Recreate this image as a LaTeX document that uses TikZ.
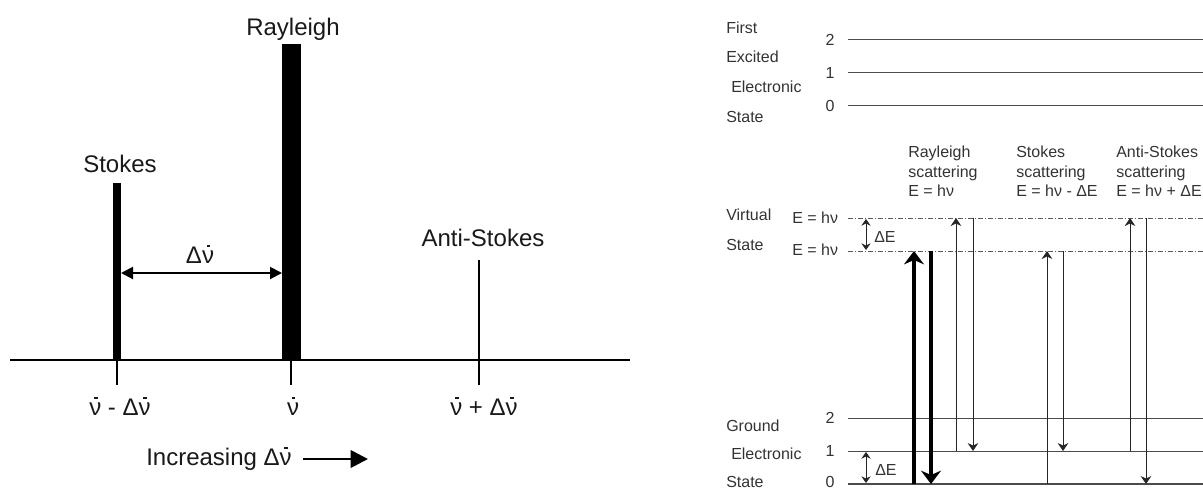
\documentclass[tikz,border=0pt]{standalone}
\usepackage{fontspec}
\setmainfont{Liberation Sans}
\usepackage{graphicx}
\usetikzlibrary{arrows.meta}
\newcommand{\nub}{\makebox[0pt][l]{\kern0.2em\rule[0.66em]{0.15em}{0.07em}}ν}
\begin{document}
\begin{tikzpicture}[x=0.75pt,y=-0.75pt,
  big/.style={font=\fontsize{18}{21}\selectfont, text=black!90, inner sep=0pt},
  small/.style={font=\fontsize{12}{15}\selectfont, text=black!80, inner sep=0pt, anchor=base west},
  num/.style={font=\fontsize{12}{15}\selectfont, text=black!80, inner sep=0pt, anchor=base},
  axisline/.style={draw=black, line width=1.5pt},
  tickline/.style={draw=black, line width=1.5pt},
  level/.style={draw=black!70, line width=0.75pt},
  virt/.style={draw=black!65, line width=0.7pt, dash pattern=on 3.75pt off 1.5pt on 0.75pt off 1.5pt},
  thinarrow/.style={draw=black!85, line width=0.75pt, -{Stealth[length=6pt,width=8pt]}},
  thickarrow/.style={draw=black, line width=3pt, -{Stealth[length=10pt,width=15pt]}},
  dearrow/.style={draw=black!85, line width=0.75pt, {Stealth[length=5pt,width=7pt]}-{Stealth[length=5pt,width=7pt]}},
  dnuarrow/.style={draw=black, line width=1.5pt, {Triangle[length=9pt,width=9pt]}-{Triangle[length=9pt,width=9pt]}},
  incarrow/.style={draw=black, line width=2pt, -{Triangle[length=13pt,width=13pt]}}
]
\useasboundingbox (0,0) rectangle (1203,490);

% ---------------- left panel ----------------
\coordinate (axL) at (10,360);
\coordinate (axR) at (630,360);
\draw[axisline] (axL) -- (axR);

% bars
\fill[black] (113,183) rectangle (121,361);
\fill[black] (282,44) rectangle (301,361);
\coordinate (asTop) at (479,260);
\coordinate (asBot) at (479,360);
\draw[draw=black, line width=1.9pt] (asTop) -- (asBot);

% ticks
\coordinate (t1a) at (117,360); \coordinate (t1b) at (117,385);
\coordinate (t2a) at (291,360); \coordinate (t2b) at (291,385);
\coordinate (t3a) at (479,360); \coordinate (t3b) at (479,385);
\draw[tickline] (t1a) -- (t1b);
\draw[tickline] (t2a) -- (t2b);
\draw[tickline] (t3a) -- (t3b);

% labels
\node[big, anchor=base] (lStokes) at (120,172) {Stokes};
\node[big, anchor=base] (lRay) at (293,35) {Rayleigh};
\node[big, anchor=base] (lAnti) at (483,246) {Anti-Stokes};
\node[big, anchor=base] (lDnu) at (200,263) {Δ\nub};
\node[big, anchor=base] (x1) at (120,415) {\nub{} - Δ\nub};
\node[big, anchor=base] (x2) at (293,415) {\nub};
\node[big, anchor=base] (x3) at (484,415) {\nub{} + Δ\nub};
\node[big, anchor=base west] (inc) at (146,465) {Increasing Δ\nub};

\coordinate (dnuL) at (121,273);
\coordinate (dnuR) at (282,273);
\draw[dnuarrow] (dnuL) -- (dnuR);
\coordinate (incA) at (303,459);
\coordinate (incB) at (368,459);
\draw[incarrow] (incA) -- (incB);

% ---------------- right panel ----------------
% excited state
\node[small] (eFirst) at (726,33) {First};
\node[small] (eExc) at (726,62) {Excited};
\node[small] (eEl) at (731,92) {Electronic};
\node[small] (eSt) at (726,122) {State};
\node[num] (e2) at (830,45) {2};
\node[num] (e1) at (830,78) {1};
\node[num] (e0) at (830,111) {0};
\coordinate (e2a) at (848,39);  \coordinate (e2b) at (1203,39);
\coordinate (e1a) at (848,72);  \coordinate (e1b) at (1203,72);
\coordinate (e0a) at (848,105); \coordinate (e0b) at (1203,105);
\draw[level] (e2a) -- (e2b);
\draw[level] (e1a) -- (e1b);
\draw[level] (e0a) -- (e0b);

% scattering labels
\node[small] (r1) at (908,157) {Rayleigh};
\node[small] (r2) at (908,177) {scattering};
\node[small] (r3) at (908,196) {E = hν};
\node[small] (s1) at (1016,157) {Stokes};
\node[small] (s2) at (1016,177) {scattering};
\node[small] (s3) at (1016,196) {E = hν - ΔE};
\node[small] (a1) at (1116,157) {Anti-Stokes};
\node[small] (a2) at (1116,177) {scattering};
\node[small] (a3) at (1116,196) {E = hν + ΔE};

% virtual states
\node[small] (vV) at (726,220) {Virtual};
\node[small] (vS) at (726,250) {State};
\node[small] (vE1) at (792,223) {E = hν};
\node[small] (vE2) at (792,255) {E = hν};
\coordinate (v1a) at (848,218); \coordinate (v1b) at (1203,218);
\coordinate (v2a) at (848,251); \coordinate (v2b) at (1203,251);
\draw[virt] (v1a) -- (v1b);
\draw[virt] (v2a) -- (v2b);
\coordinate (dv1) at (866,219); \coordinate (dv2) at (866,250);
\draw[dearrow] (dv1) -- (dv2);
\node[small] (vDE) at (874,242) {ΔE};

% ground state
\node[small] (gGr) at (726,431) {Ground};
\node[small] (gEl) at (731,459) {Electronic};
\node[small] (gSt) at (726,487) {State};
\node[num] (g2) at (830,423) {2};
\node[num] (g1) at (830,456) {1};
\node[num] (g0) at (830,487) {0};
\coordinate (g2a) at (848,418); \coordinate (g2b) at (1203,418);
\coordinate (g1a) at (848,451); \coordinate (g1b) at (1203,451);
\coordinate (g0a) at (848,484); \coordinate (g0b) at (1203,484);
\draw[level] (g2a) -- (g2b);
\draw[level] (g1a) -- (g1b);
\draw[level, line width=1.3pt] (g0a) -- (g0b);
\coordinate (dg1) at (866,452); \coordinate (dg2) at (866,483);
\draw[dearrow] (dg1) -- (dg2);
\node[small] (gDE) at (875,475) {ΔE};

% transitions
\coordinate (T1a) at (914,484); \coordinate (T1b) at (914,251);
\coordinate (T2a) at (931,251); \coordinate (T2b) at (931,484);
\draw[thickarrow] (T1a) -- (T1b);
\draw[thickarrow] (T2a) -- (T2b);
\coordinate (R1a) at (956,451); \coordinate (R1b) at (956,218);
\coordinate (R2a) at (973,218); \coordinate (R2b) at (973,451);
\draw[thinarrow] (R1a) -- (R1b);
\draw[thinarrow] (R2a) -- (R2b);
\coordinate (S1a) at (1047,484); \coordinate (S1b) at (1047,251);
\coordinate (S2a) at (1063,251); \coordinate (S2b) at (1063,451);
\draw[thinarrow] (S1a) -- (S1b);
\draw[thinarrow] (S2a) -- (S2b);
\coordinate (A1a) at (1130,451); \coordinate (A1b) at (1130,218);
\coordinate (A2a) at (1146,218); \coordinate (A2b) at (1146,484);
\draw[thinarrow] (A1a) -- (A1b);
\draw[thinarrow] (A2a) -- (A2b);
\end{tikzpicture}
\end{document}
